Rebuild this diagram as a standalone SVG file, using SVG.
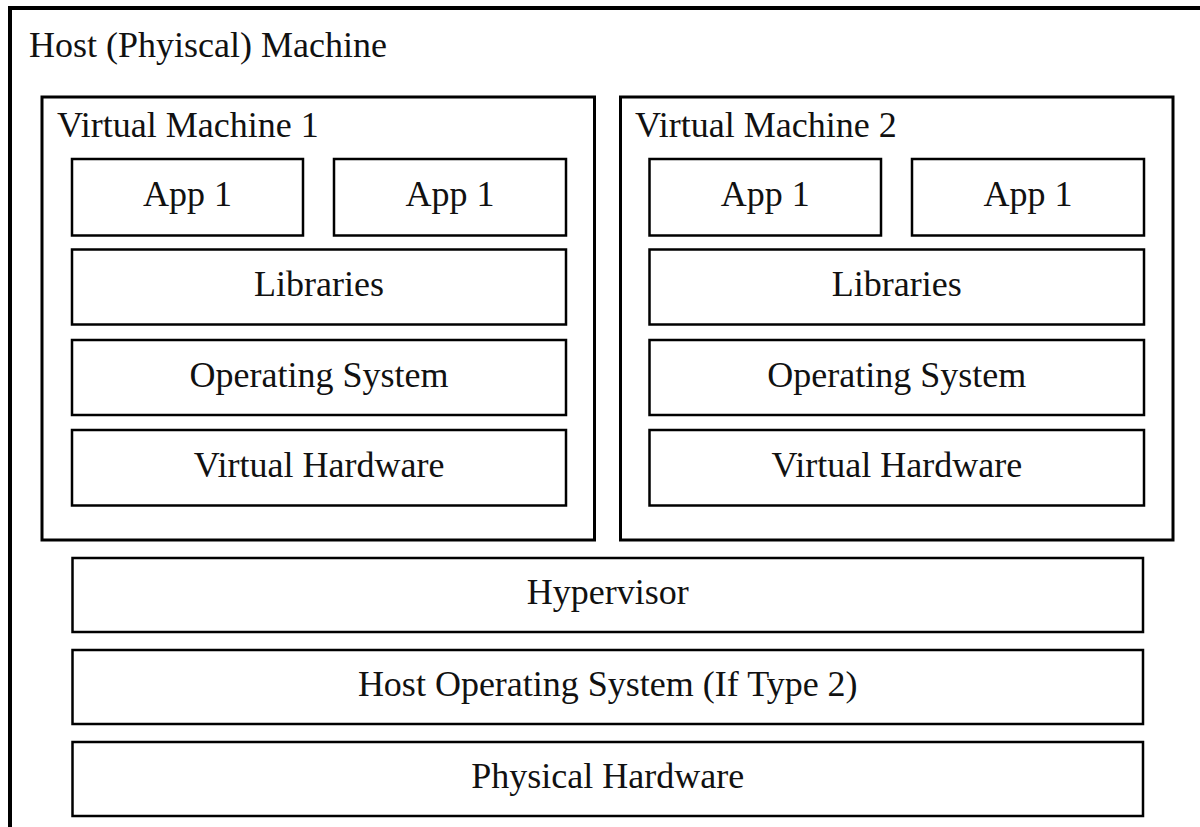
<svg xmlns="http://www.w3.org/2000/svg" width="1200" height="827" viewBox="0 0 1200 827" font-family="'Liberation Serif', serif" font-size="36">
<style>
  .box { fill: #ffffff; stroke: #000000; stroke-width: 2.5; }
  .vm { fill: #ffffff; stroke: #000000; stroke-width: 3; }
  .outer { fill: #ffffff; stroke: #000000; stroke-width: 4; }
  text { fill: #111111; }
  .c { text-anchor: middle; }
</style>
<rect x="0" y="0" width="1200" height="827" fill="#ffffff"/>
<g id="host">
  <rect class="outer" x="10" y="8" width="1200" height="830"/>
  <text x="29" y="57">Host (Phyiscal) Machine</text>
</g>
<g id="vm1">
  <rect class="vm" x="42" y="97" width="552.5" height="443"/>
  <text x="57" y="137">Virtual Machine 1</text>
</g>
<g id="vm1-app-a">
  <rect class="box" x="72" y="159" width="231" height="76.5"/>
  <text class="c" x="187.5" y="206">App 1</text>
</g>
<g id="vm1-app-b">
  <rect class="box" x="334" y="159" width="232" height="76.5"/>
  <text class="c" x="450" y="206">App 1</text>
</g>
<g id="vm1-libraries">
  <rect class="box" x="72" y="249.5" width="494" height="75"/>
  <text class="c" x="319" y="296">Libraries</text>
</g>
<g id="vm1-os">
  <rect class="box" x="72" y="340" width="494" height="75"/>
  <text class="c" x="319" y="386.5">Operating System</text>
</g>
<g id="vm1-vhw">
  <rect class="box" x="72" y="430" width="494" height="75.5"/>
  <text class="c" x="319" y="476.5">Virtual Hardware</text>
</g>
<g id="vm2">
  <rect class="vm" x="620.5" y="97" width="552.5" height="443"/>
  <text x="635" y="137">Virtual Machine 2</text>
</g>
<g id="vm2-app-a">
  <rect class="box" x="649.5" y="159" width="231.5" height="76.5"/>
  <text class="c" x="765.25" y="206">App 1</text>
</g>
<g id="vm2-app-b">
  <rect class="box" x="912" y="159" width="232" height="76.5"/>
  <text class="c" x="1028" y="206">App 1</text>
</g>
<g id="vm2-libraries">
  <rect class="box" x="649.5" y="249.5" width="494.5" height="75"/>
  <text class="c" x="896.75" y="296">Libraries</text>
</g>
<g id="vm2-os">
  <rect class="box" x="649.5" y="340" width="494.5" height="75"/>
  <text class="c" x="896.75" y="386.5">Operating System</text>
</g>
<g id="vm2-vhw">
  <rect class="box" x="649.5" y="430" width="494.5" height="75.5"/>
  <text class="c" x="896.75" y="476.5">Virtual Hardware</text>
</g>
<g id="hypervisor">
  <rect class="box" x="72.5" y="558" width="1070.5" height="74"/>
  <text class="c" x="607.75" y="604">Hypervisor</text>
</g>
<g id="host-os">
  <rect class="box" x="72.5" y="650" width="1070.5" height="74"/>
  <text class="c" x="607.75" y="696">Host Operating System (If Type 2)</text>
</g>
<g id="physical-hardware">
  <rect class="box" x="72.5" y="742" width="1070.5" height="74"/>
  <text class="c" x="607.75" y="788">Physical Hardware</text>
</g>
<g id="connectors"></g>
</svg>
